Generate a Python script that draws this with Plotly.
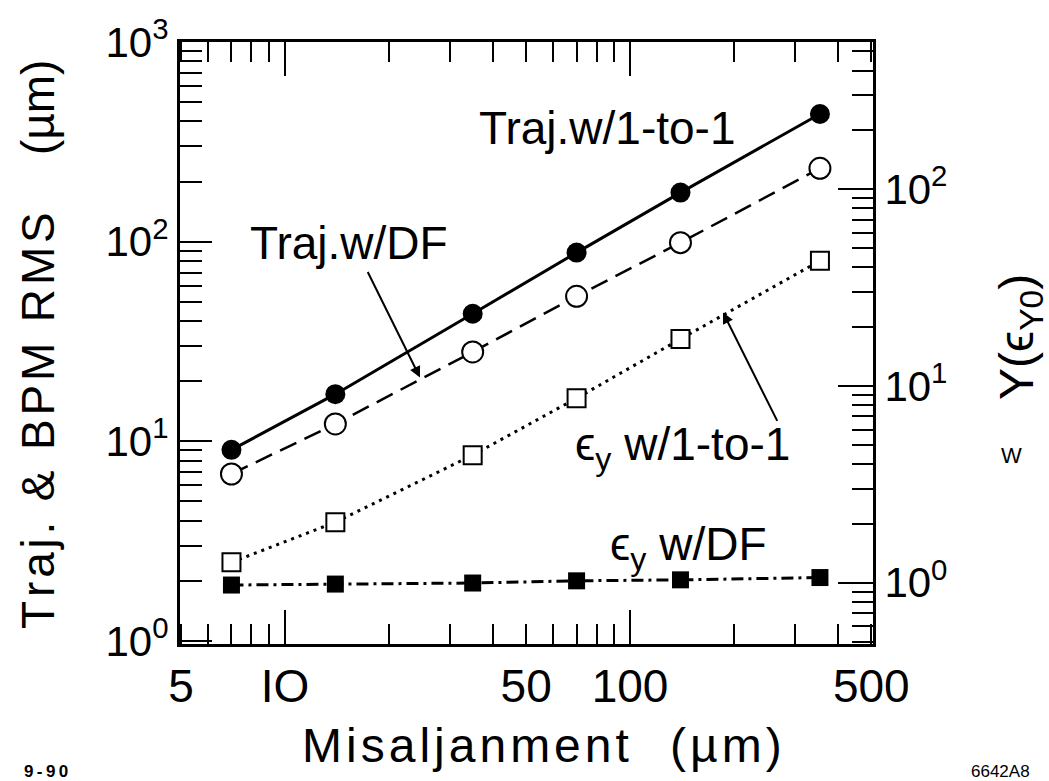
import plotly.graph_objects as go

# ---------------- data ----------------
misalign = [7, 14, 35, 70, 140, 355]                      # misalignment (um)
traj_1to1 = [9.05, 17.2, 43.5, 88.1, 176, 436]           # Traj. w/1-to-1 (left axis, um)
traj_df = [6.85, 12.2, 28.0, 53.2, 98.8, 233]            # Traj. w/DF (left axis, um)
eps_1to1 = [1.27, 2.03, 4.45, 8.66, 17.3, 43.2]          # eps_y w/1-to-1 (right axis)
eps_df = [0.974, 0.985, 0.997, 1.023, 1.035, 1.063]      # eps_y w/DF (right axis)

x_tick_vals = [5, 10, 50, 100, 500]
x_tick_text = ["5", "IO", "50", "100", "500"]
x_long_ticks = [10, 100]
x_minor_ticks = [6, 7, 8, 9, 20, 30, 40, 60, 70, 80, 90, 200, 300, 400]

yl_tick_vals = [1, 10, 100, 1000]
yl_tick_text = ["10<sup>0</sup>", "10<sup>1</sup>", "10<sup>2</sup>", "10<sup>3</sup>"]
yl_minor_ticks = [2, 3, 4, 5, 6, 7, 8, 9, 20, 30, 40, 50, 60, 70, 80, 90,
                  200, 300, 400, 500, 600, 700, 800, 900]

yr_tick_vals = [1, 10, 100]
yr_tick_text = ["10<sup>0</sup>", "10<sup>1</sup>", "10<sup>2</sup>"]
yr_minor_ticks = [0.5, 0.6, 0.7, 0.8, 0.9, 2, 3, 4, 5, 6, 7, 8, 9,
                  20, 30, 40, 50, 60, 70, 80, 90, 200, 300, 400, 500]

# ---------------- geometry ----------------
W, H = 1049, 781
L, R, T, B = 180, 873, 34, 644
FONT = "Liberation Sans, Arial, sans-serif"
HAIR = "\u200a"


def px(x):
    return (x - L) / (R - L)


def py(y):
    return (B - y) / (B - T)


def spaced(s):
    return HAIR.join(s)


fig = go.Figure()

fig.add_trace(go.Scatter(
    x=misalign, y=traj_1to1, mode="lines+markers", name="Traj.w/1-to-1",
    line=dict(color="black", width=3),
    marker=dict(symbol="circle", size=20, color="black"),
    xaxis="x", yaxis="y", showlegend=False))

fig.add_trace(go.Scatter(
    x=misalign, y=traj_df, mode="lines+markers", name="Traj.w/DF",
    line=dict(color="black", width=2.5, dash="18px,9px"),
    marker=dict(symbol="circle", size=21, color="white",
                line=dict(color="black", width=2)),
    xaxis="x", yaxis="y", showlegend=False))

fig.add_trace(go.Scatter(
    x=misalign, y=eps_1to1, mode="lines+markers", name="eps_y w/1-to-1",
    line=dict(color="black", width=3, dash="3px,5px"),
    marker=dict(symbol="square", size=18, color="white",
                line=dict(color="black", width=2)),
    xaxis="x", yaxis="y2", showlegend=False))

fig.add_trace(go.Scatter(
    x=misalign, y=eps_df, mode="lines+markers", name="eps_y w/DF",
    line=dict(color="black", width=3, dash="12px,5px,3px,5px"),
    marker=dict(symbol="square", size=17, color="black"),
    xaxis="x", yaxis="y2", showlegend=False))

# invisible trace that carries the overlay axis used for the long decade ticks
fig.add_trace(go.Scatter(x=[10], y=[10], mode="markers", marker=dict(opacity=0),
                         xaxis="x2", yaxis="y", hoverinfo="skip", showlegend=False))

xrange = [0.696, 2.704]

fig.update_layout(
    width=W, height=H, autosize=False,
    margin=dict(l=L, r=W - R, t=T, b=H - B, pad=0),
    paper_bgcolor="white", plot_bgcolor="white",
    font=dict(family=FONT, color="black"),
    xaxis=dict(
        type="log", range=xrange, showline=True, linewidth=3, linecolor="black",
        mirror="ticks", ticks="inside", ticklen=20, tickwidth=2, tickcolor="black",
        tickmode="array", tickvals=x_tick_vals, ticktext=x_tick_text,
        tickfont=dict(size=46, family=FONT), showgrid=False, zeroline=False,
        minor=dict(ticks="inside", ticklen=20, tickwidth=2, tickcolor="black",
                   tickmode="array", tickvals=x_minor_ticks, showgrid=False),
        anchor="y"),
    xaxis2=dict(
        type="log", range=xrange, overlaying="x", anchor="y", side="bottom",
        showline=True, linewidth=3, linecolor="black", mirror="ticks",
        ticks="inside", ticklen=34, tickwidth=2, tickcolor="black",
        tickmode="array", tickvals=x_long_ticks, showticklabels=False,
        showgrid=False, zeroline=False),
    yaxis=dict(
        type="log", range=[-0.016, 3.0], showline=True, linewidth=3, linecolor="black",
        ticks="inside", ticklen=32, tickwidth=2, tickcolor="black",
        tickmode="array", tickvals=yl_tick_vals, ticktext=yl_tick_text,
        tickfont=dict(size=42, family=FONT), showgrid=False, zeroline=False,
        minor=dict(ticks="inside", ticklen=22, tickwidth=2, tickcolor="black",
                   tickmode="array", tickvals=yl_minor_ticks, showgrid=False),
        anchor="x"),
    yaxis2=dict(
        type="log", range=[-0.311, 2.747], overlaying="y", side="right", anchor="x",
        showline=True, linewidth=3, linecolor="black",
        ticks="inside", ticklen=35, tickwidth=2, tickcolor="black",
        tickmode="array", tickvals=yr_tick_vals, ticktext=yr_tick_text,
        tickfont=dict(size=42, family=FONT), showgrid=False, zeroline=False,
        minor=dict(ticks="inside", ticklen=21, tickwidth=2, tickcolor="black",
                   tickmode="array", tickvals=yr_minor_ticks, showgrid=False)),
)

ann = []


def text(t, x, y, size, xanchor="left", yanchor="middle", angle=0, bold=False):
    ann.append(dict(text=("<b>%s</b>" % t) if bold else t, x=px(x), y=py(y),
                    xref="paper", yref="paper", showarrow=False,
                    xanchor=xanchor, yanchor=yanchor, textangle=angle,
                    font=dict(size=size, family=FONT, color="black")))


def arrow(tip, tail):
    ann.append(dict(text="", x=px(tip[0]), y=py(tip[1]), xref="paper", yref="paper",
                    showarrow=True, ax=tail[0] - tip[0], ay=tail[1] - tip[1],
                    arrowhead=2, arrowsize=1.1, arrowwidth=2, arrowcolor="black",
                    standoff=0, startstandoff=0))


# series labels
text("Traj.w/1-to-1", 477, 121, 46)
text("Traj.w/DF", 248, 238, 46)
text("\u03f5<sub>y</sub> w/1-to-1", 573, 445, 46)
text("\u03f5<sub>y</sub> w/DF", 608, 546, 46)
arrow((420, 374), (367, 267))
arrow((723, 308), (778, 418))

# axis titles
text(spaced("Traj. & BPM RMS"), 38, 418, 46, xanchor="center", angle=-90)
text("(\u00b5m)", 38, 101, 46, xanchor="center", angle=-90)
text(spaced("Misaljanment"), 300, 747, 48)
text(spaced("(\u00b5m)"), 668, 747, 48)
text("Y(\u03f5<sub>Y0</sub>)", 1020, 333, 48, xanchor="center", angle=-90)
text("W", 1011, 453, 22, xanchor="center")

# corner codes
text("9\u2009-\u20099\u20090", 46, 773, 17, xanchor="center", bold=True)
text("6642A8", 1000, 773, 17, xanchor="center")

fig.update_layout(annotations=ann)

fig.write_html("out.html")
